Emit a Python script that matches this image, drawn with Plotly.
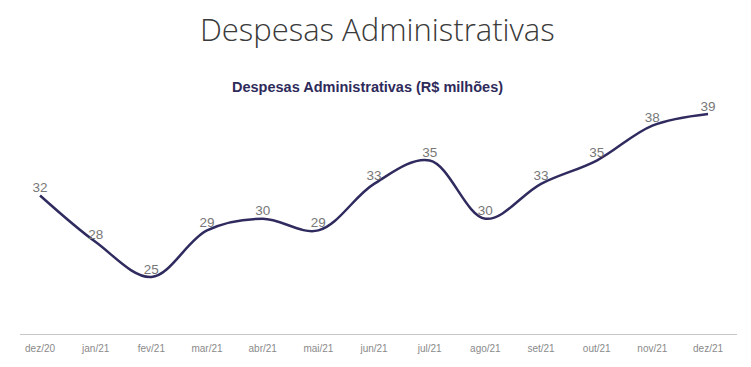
import plotly.graph_objects as go

months = ["dez/20", "jan/21", "fev/21", "mar/21", "abr/21", "mai/21", "jun/21",
          "jul/21", "ago/21", "set/21", "out/21", "nov/21", "dez/21"]
values = [32, 28, 25, 29, 30, 29, 33, 35, 30, 33, 35, 38, 39]

fig = go.Figure()
fig.add_trace(go.Scatter(
    x=list(range(len(months))), y=values,
    mode="lines+text",
    line=dict(color="#2f2b5f", width=2.5, shape="spline", smoothing=1.0),
    text=[str(v) for v in values],
    textposition="top center",
    textfont=dict(family="Liberation Sans, Arial, sans-serif", size=13.5, color="#777777"),
    cliponaxis=False,
    hoverinfo="skip",
))

fig.update_layout(
    width=743, height=359,
    paper_bgcolor="white", plot_bgcolor="white",
    margin=dict(l=12, r=14, t=92, b=33),
    showlegend=False,
    title=dict(
        text="Despesas Administrativas",
        x=0.497, xanchor="center", y=0.939, yanchor="middle",
        font=dict(family="Open Sans, sans-serif", size=31, color="#3a3a3a", weight=300),
    ),
    annotations=[dict(
        text="<b>Despesas Administrativas (R$ milhões)</b>",
        xref="paper", yref="paper", x=0.484, y=1.056,
        xanchor="center", yanchor="middle", showarrow=False,
        font=dict(family="Liberation Sans, Arial, sans-serif", size=14.5, color="#2e2a5a"),
    )],
    xaxis=dict(
        tickmode="array", tickvals=list(range(len(months))), ticktext=months,
        range=[-0.36, 12.52], showgrid=False, zeroline=False,
        showline=True, linecolor="#c8c8c8", linewidth=1,
        ticks="outside", ticklen=5, tickcolor="rgba(0,0,0,0)",
        tickfont=dict(family="Liberation Sans, Arial, sans-serif", size=10, color="#8a8a8a"),
    ),
    yaxis=dict(range=[20.1, 40.2], visible=False, showgrid=False, zeroline=False),
)

fig.write_html("out.html")
